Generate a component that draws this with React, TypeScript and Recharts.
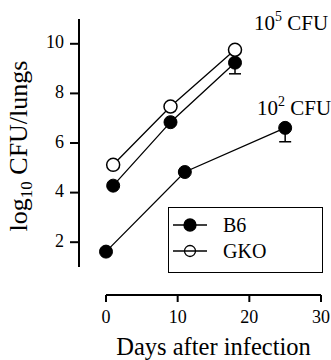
import React from "react";
import { LineChart, Line, XAxis, YAxis, ErrorBar, Legend, Customized } from "recharts";

const serif = '"Liberation Serif", "Times New Roman", serif';

// 10^5 CFU infection
const highDays = [1, 9, 18];
const b6High = [4.28, 6.84, 9.24];
const b6HighErr = [0, 0, 0.45];
const gkoHigh = [5.12, 7.47, 9.76];

// 10^2 CFU infection
const lowDays = [0, 11, 25];
const b6Low = [1.62, 4.83, 6.61];
const b6LowErr = [0, 0, 0.56];

const xTicks = [0, 10, 20, 30];
const yTicks = [2, 4, 6, 8, 10];

const markerFill: Record<string, string> = { B6: "#000", GKO: "none" };

const toRows = (days: number[], vals: number[], errs?: number[]) =>
  days.map((d, i) => ({ day: d, value: vals[i], err: [errs ? errs[i] : 0, 0] }));

const b6HighRows = toRows(highDays, b6High, b6HighErr);
const gkoHighRows = toRows(highDays, gkoHigh);
const b6LowRows = toRows(lowDays, b6Low, b6LowErr);

const XTick = (props: any) => (
  <text x={props.x} y={props.y} dy="0.71em" textAnchor="middle" fontFamily={serif} fontSize={18} fill="#000">
    {props.payload.value}
  </text>
);

const YTick = (props: any) => (
  <text x={props.x} y={props.y} dy="0.25em" textAnchor="end" fontFamily={serif} fontSize={18} fill="#000">
    {props.payload.value}
  </text>
);

function LegendBox(props: any) {
  const items = (props.payload || []).filter((p: any) => p.type !== "none");
  return (
    <div
      style={{
        position: "relative",
        width: 155,
        height: 66,
        boxSizing: "border-box",
        border: "1.5px solid #000",
        background: "#fff",
      }}
    >
      {items.map((p: any, i: number) => (
        <div key={p.value} style={{ position: "absolute", left: 0, top: 4 + i * 26, height: 26, display: "flex", alignItems: "center" }}>
          <svg width={44} height={26}>
            <line x1={4} y1={13} x2={38} y2={13} stroke="#000" strokeWidth={1.3} />
            <circle cx={21} cy={13} r={p.value === "GKO" ? 5.5 : 6} fill={markerFill[p.value]} stroke="#000" strokeWidth={1.3} />
          </svg>
          <span style={{ marginLeft: 10, fontFamily: serif, fontSize: 20, color: "#000" }}>{p.value}</span>
        </div>
      ))}
    </div>
  );
}

function Annotations() {
  return (
    <g fontFamily={serif} fill="#000">
      <text x={254} y={30} fontSize={21}>
        10<tspan fontSize={14} dy={-9}>5</tspan>
        <tspan dy={9}> CFU</tspan>
      </text>
      <text x={257} y={115} fontSize={21}>
        10<tspan fontSize={14} dy={-9}>2</tspan>
        <tspan dy={9}> CFU</tspan>
      </text>
      <text transform="translate(27,146) rotate(-90)" textAnchor="middle" fontSize={26}>
        log<tspan fontSize={17} dy={5}>10</tspan>
        <tspan dy={-5}> CFU/lungs</tspan>
      </text>
    </g>
  );
}

export default function App() {
  return (
    <div style={{ position: "absolute", left: 0, top: 0, width: 331, height: 360, background: "#fff", fontFamily: serif }}>
      <LineChart width={331} height={360} margin={{ top: 19, right: 10, bottom: 0, left: 0 }}>
        <XAxis xAxisId="gapx" type="number" domain={[0, 1]} height={28} tick={false} axisLine={false} tickLine={false} />
        <XAxis
          xAxisId="x"
          dataKey="day"
          type="number"
          domain={[0, 30]}
          ticks={xTicks}
          height={65}
          tickSize={7}
          tickMargin={8}
          axisLine={{ stroke: "#000", strokeWidth: 2 }}
          tickLine={{ stroke: "#000", strokeWidth: 2 }}
          tick={XTick}
          label={{ value: "Days after infection", position: "insideBottom", offset: 5, fill: "#000", fontSize: 24.5, fontFamily: serif }}
        />
        <YAxis yAxisId="gapy" type="number" domain={[0, 1]} width={27} tick={false} axisLine={false} tickLine={false} />
        <YAxis
          yAxisId="y"
          type="number"
          domain={[1, 11]}
          ticks={yTicks}
          width={79}
          tickSize={9}
          tickMargin={6}
          axisLine={{ stroke: "#000", strokeWidth: 2 }}
          tickLine={{ stroke: "#000", strokeWidth: 2 }}
          tick={YTick}
        />
        <Line
          xAxisId="x"
          yAxisId="y"
          data={b6HighRows}
          dataKey="value"
          name="B6"
          stroke="#000"
          strokeWidth={1.3}
          dot={{ r: 6.5, fill: "#000", stroke: "#000", strokeWidth: 1 }}
          isAnimationActive={false}
        >
          <ErrorBar dataKey="err" width={6} stroke="#000" strokeWidth={1.5} direction="y" />
        </Line>
        <Line
          xAxisId="x"
          yAxisId="y"
          data={gkoHighRows}
          dataKey="value"
          name="GKO"
          stroke="#000"
          strokeWidth={1.3}
          dot={{ r: 6.5, fill: "#fff", stroke: "#000", strokeWidth: 1.5 }}
          isAnimationActive={false}
        />
        <Line
          xAxisId="x"
          yAxisId="y"
          data={b6LowRows}
          dataKey="value"
          name="B6 low"
          legendType="none"
          stroke="#000"
          strokeWidth={1.3}
          dot={{ r: 6.5, fill: "#000", stroke: "#000", strokeWidth: 1 }}
          isAnimationActive={false}
        >
          <ErrorBar dataKey="err" width={6} stroke="#000" strokeWidth={1.5} direction="y" />
        </Line>
        <Legend
          layout="vertical"
          align="center"
          verticalAlign="middle"
          wrapperStyle={{ left: 168, top: 207, width: 155, height: 66 }}
          content={LegendBox}
        />
        <Customized component={Annotations} />
      </LineChart>
    </div>
  );
}
